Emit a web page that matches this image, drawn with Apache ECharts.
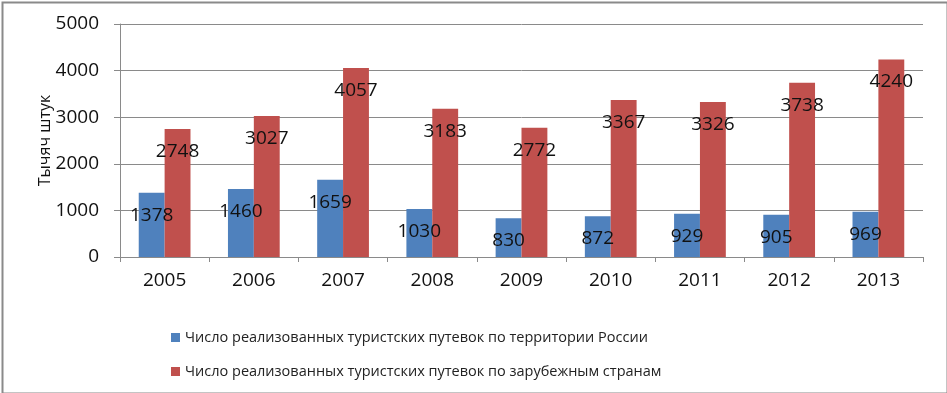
<!DOCTYPE html>
<html>
<head>
<meta charset="utf-8">
<script src="https://cdn.jsdelivr.net/npm/echarts@6/dist/echarts.min.js"></script>
<style>
  html, body { margin: 0; padding: 0; background: #fff; }
  #chart { width: 947px; height: 393px; }
</style>
</head>
<body>
<div id="chart"></div>
<script>
const years = ["2005", "2006", "2007", "2008", "2009", "2010", "2011", "2012", "2013"];
const russiaTrips = [1378, 1460, 1659, 1030, 830, 872, 929, 905, 969];
const abroadTrips = [2748, 3027, 4057, 3183, 2772, 3367, 3326, 3738, 4240];
const seriesNames = [
  "Число реализованных туристских путевок по территории России",
  "Число реализованных туристских путевок по зарубежным странам"
];

const FONT = "'Open Sans', 'Noto Sans', sans-serif";

const chart = echarts.init(document.getElementById("chart"));

function barLabel() {
  return {
    show: true,
    position: "insideTop",
    distance: 13,
    color: "#111",
    fontFamily: FONT,
    fontSize: 19
  };
}

chart.setOption({
  backgroundColor: "#fff",
  animation: false,
  graphic: [
    {
      type: "rect",
      left: 0,
      top: 0,
      shape: { x: 1, y: 1, width: 945, height: 391 },
      style: { fill: "none", stroke: "#8a8a8a", lineWidth: 2 },
      silent: true
    }
  ],
  grid: { left: 120, right: 24, top: 24, bottom: 136 },
  legend: {
    orient: "vertical",
    left: 166,
    top: 325,
    itemWidth: 9,
    itemHeight: 9,
    itemGap: 19,
    icon: "rect",
    textStyle: { color: "#222", fontFamily: FONT, fontSize: 14.5 },
    data: seriesNames
  },
  xAxis: {
    type: "category",
    data: years,
    axisLine: { lineStyle: { color: "#8a8a8a", width: 1 } },
    axisTick: { show: true, length: 5, lineStyle: { color: "#8a8a8a" } },
    axisLabel: { color: "#111", fontFamily: FONT, fontSize: 19, margin: 14 }
  },
  yAxis: {
    type: "value",
    min: 0,
    max: 5000,
    interval: 1000,
    name: "Тычяч штук",
    nameLocation: "middle",
    nameGap: 67,
    nameRotate: 90,
    nameMoveOverlap: false,
    nameTextStyle: { color: "#111", fontFamily: FONT, fontSize: 16 },
    axisLine: { show: true, lineStyle: { color: "#8a8a8a" } },
    axisTick: { show: true, length: 6, lineStyle: { color: "#8a8a8a" } },
    splitLine: { show: true, lineStyle: { color: "#8a8a8a", width: 1 } },
    axisLabel: {
      color: "#111",
      fontFamily: FONT,
      fontSize: 19,
      margin: 21,
      formatter: (v) => String(v)
    }
  },
  series: [
    {
      name: seriesNames[0],
      type: "bar",
      data: russiaTrips,
      itemStyle: { color: "#4F81BD" },
      barGap: "0%",
      barCategoryGap: "42%",
      label: barLabel()
    },
    {
      name: seriesNames[1],
      type: "bar",
      data: abroadTrips,
      itemStyle: { color: "#C0504D" },
      barGap: "0%",
      barCategoryGap: "42%",
      label: barLabel()
    }
  ]
});
</script>
</body>
</html>
